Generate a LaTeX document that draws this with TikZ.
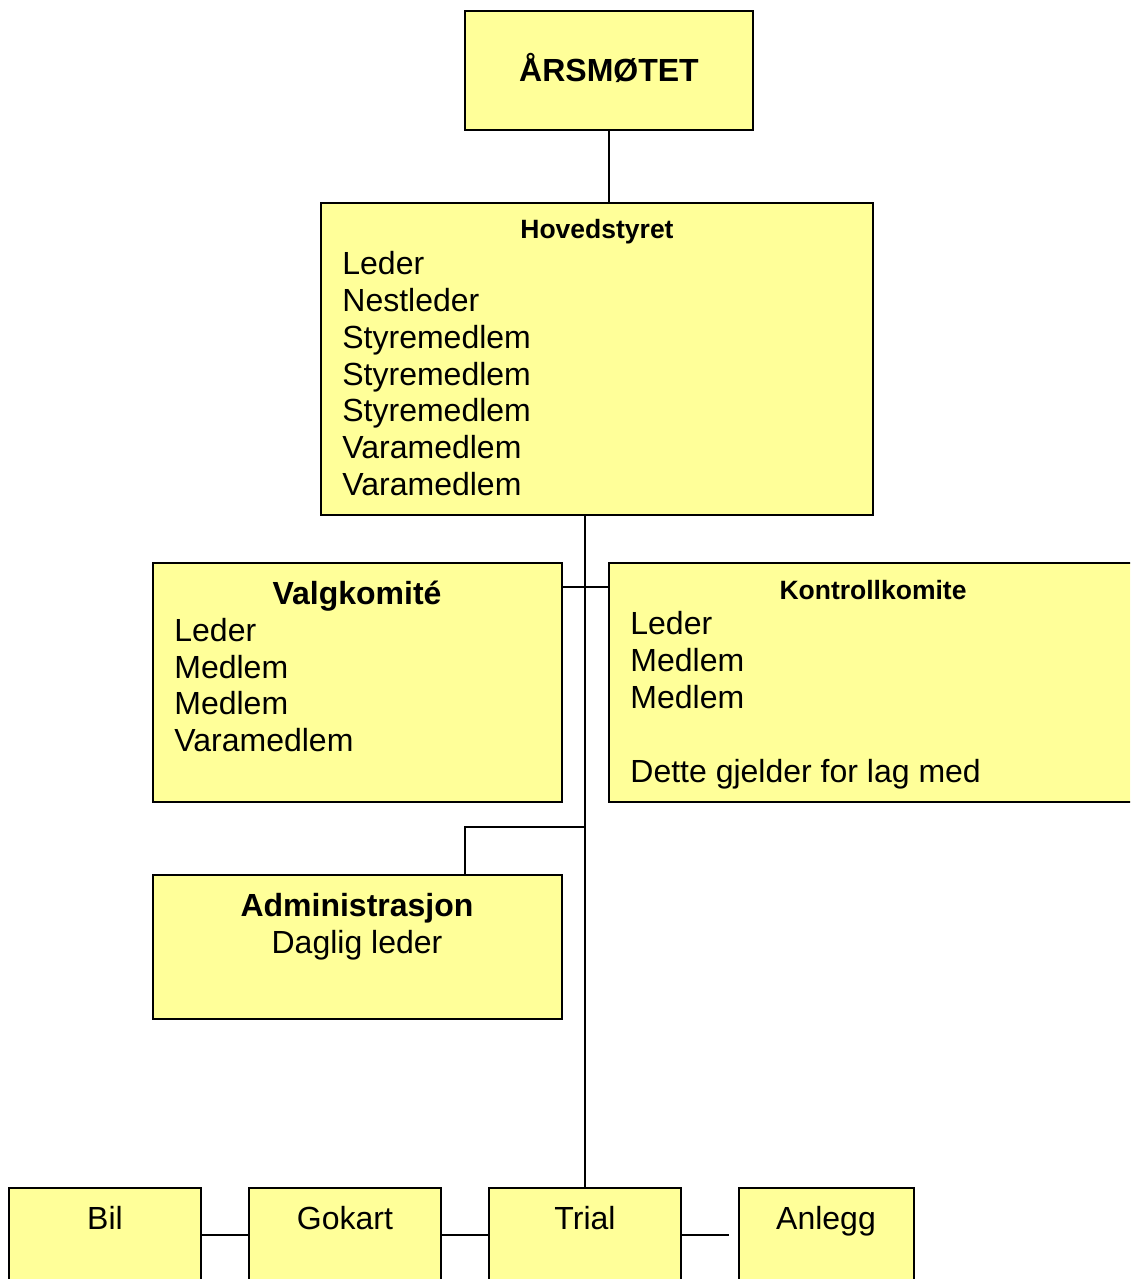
\documentclass[tikz,border=0pt]{standalone}
\usepackage{fontspec}
\setmainfont{Liberation Sans}
\usetikzlibrary{fit}
\definecolor{boxfill}{HTML}{FFFF99}
\begin{document}
\begin{tikzpicture}[x=0.5pt,y=-0.5pt,
  box/.style={draw=black, fill=boxfill, line width=1pt, inner sep=0pt},
  conn/.style={draw=black, line width=1pt},
  reg/.style={font=\fontsize{16}{18.5}\selectfont, inner sep=0pt},
  bigb/.style={font=\fontsize{16}{18.5}\selectfont\bfseries, inner sep=0pt},
  smallb/.style={font=\fontsize{13.25}{15}\selectfont\bfseries, inner sep=0pt}]
\useasboundingbox (0,0) rectangle (1130,1279);
\clip (0,0) rectangle (1130,1279);
% boxes
\node[box, fit={(465,11) (753,130)}] (ars) {};
\node[box, fit={(321,203) (873,515)}] (hov) {};
\node[box, fit={(153,563) (562,802)}] (valg) {};
\node[box, fit={(609,563) (1137,802)}] (kontr) {};
\node[box, fit={(153,875) (562,1019)}] (admin) {};
\node[box, fit={(9,1188) (201,1330)}] (bil) {};
\node[box, fit={(249,1188) (441,1330)}] (gok) {};
\node[box, fit={(489,1188) (681,1330)}] (trial) {};
\node[box, fit={(739,1188) (914,1330)}] (anl) {};
% texts
\node[bigb, anchor=base] (t-ars) at (609,82) {ÅRSMØTET};
\node[smallb, anchor=base] (t-hov) at (597,238) {Hovedstyret};
\node[reg, anchor=base west] (h1) at (342,274) {Leder};
\node[reg, anchor=base west] (h2) at (342,311) {Nestleder};
\node[reg, anchor=base west] (h3) at (342,348) {Styremedlem};
\node[reg, anchor=base west] (h4) at (342,385) {Styremedlem};
\node[reg, anchor=base west] (h5) at (342,421) {Styremedlem};
\node[reg, anchor=base west] (h6) at (342,458) {Varamedlem};
\node[reg, anchor=base west] (h7) at (342,495) {Varamedlem};
\node[bigb, anchor=base] (t-valg) at (357,604) {Valgkomité};
\node[reg, anchor=base west] (v1) at (174,641) {Leder};
\node[reg, anchor=base west] (v2) at (174,678) {Medlem};
\node[reg, anchor=base west] (v3) at (174,714) {Medlem};
\node[reg, anchor=base west] (v4) at (174,751) {Varamedlem};
\node[smallb, anchor=base] (t-kontr) at (873,599) {Kontrollkomite};
\node[reg, anchor=base west] (k1) at (630,634) {Leder};
\node[reg, anchor=base west] (k2) at (630,671) {Medlem};
\node[reg, anchor=base west] (k3) at (630,708) {Medlem};
\node[reg, anchor=base west] (k4) at (630,782) {Dette gjelder for lag med};
\node[bigb, anchor=base] (t-admin) at (357,916) {Administrasjon};
\node[reg, anchor=base] (a1) at (357,953) {Daglig leder};
\node[reg, anchor=base] (t-bil) at (105,1229) {Bil};
\node[reg, anchor=base] (t-gok) at (345,1229) {Gokart};
\node[reg, anchor=base] (t-trial) at (585,1229) {Trial};
\node[reg, anchor=base] (t-anl) at (826,1229) {Anlegg};
% connectors
\coordinate (vk) at (0,587);
\coordinate (aturn) at (465,827);
\coordinate (c1) at (0,1235);
\coordinate (anfree) at (729,1235);
\draw[conn] (ars.south) -- (ars.south |- hov.north);
\draw[conn] (trial.north) -- (trial.north |- hov.south);
\draw[conn] (valg.east |- vk) -- (kontr.west |- vk);
\draw[conn] (trial.north |- aturn) -- (aturn) -- (aturn |- admin.north);
\draw[conn] (bil.east |- c1) -- (gok.west |- c1);
\draw[conn] (gok.east |- c1) -- (trial.west |- c1);
\draw[conn] (trial.east |- c1) -- (anfree);
\end{tikzpicture}
\end{document}
